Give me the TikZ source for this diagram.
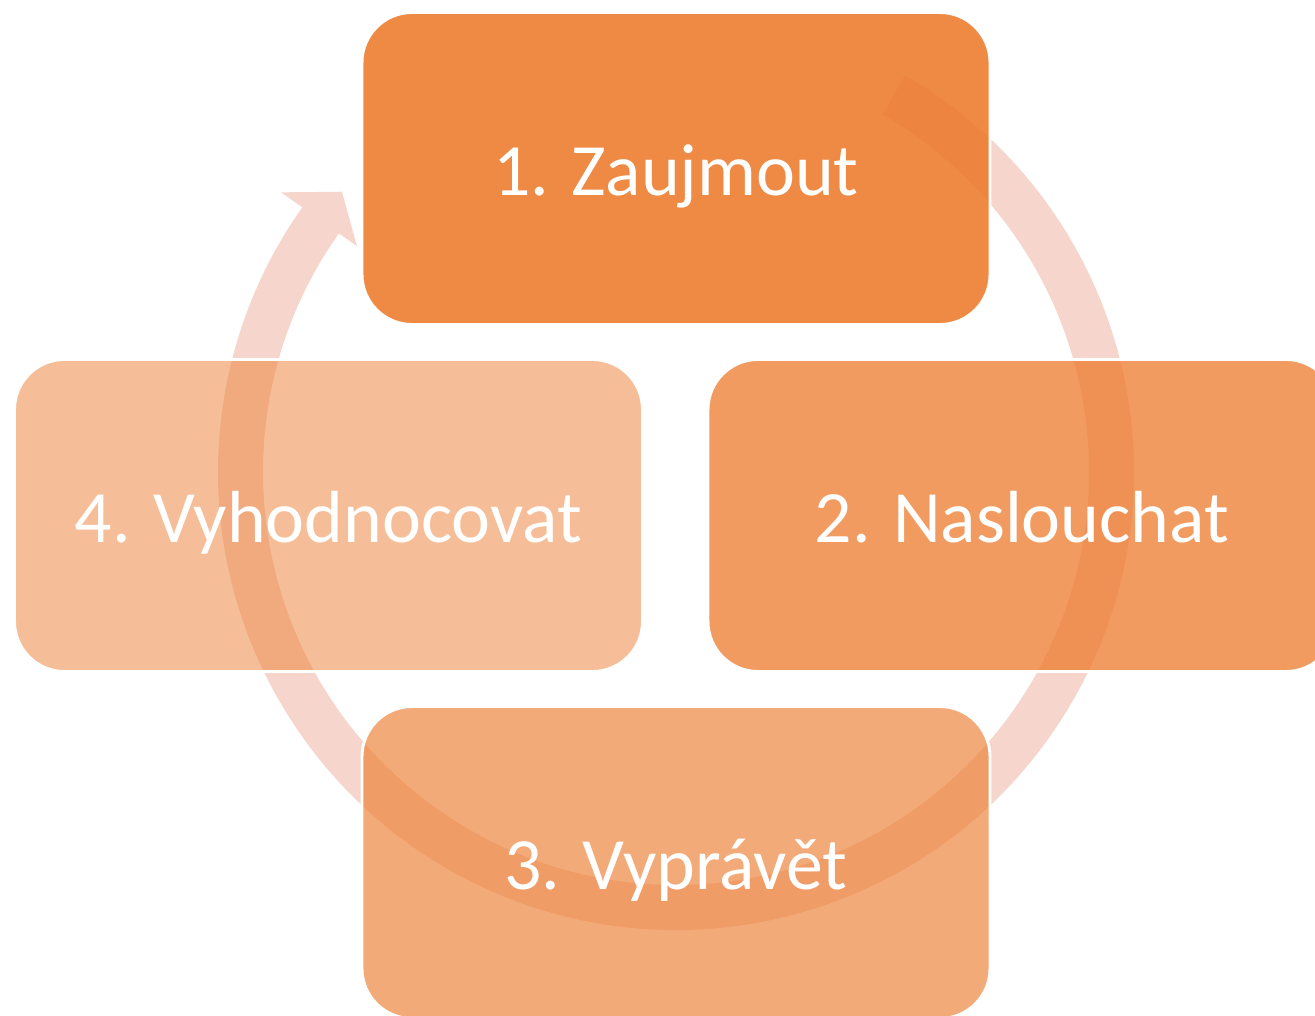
\documentclass[tikz,border=0pt]{standalone}
\usepackage{fontspec}
\setmainfont{Carlito}
\definecolor{accent}{RGB}{237,125,49}
\definecolor{ringpink}{RGB}{246,214,204}
\tikzset{stage/.style={rectangle, rounded corners=1cm, draw=white, line width=1.6pt,
    fill=accent, fill opacity=#1, text opacity=1, text=white,
    minimum width=12.56cm, minimum height=6.24cm,
    text height=31pt, text depth=0pt,
    font=\fontsize{42}{50}\selectfont}}

\begin{document}
\begin{tikzpicture}[x=0.02cm,y=0.02cm]
\useasboundingbox (0,0) rectangle (1315,1015);
\clip (0,0) rectangle (1315,1015);

%ring with arrow head
\begin{scope}[shift={(676,543)}]
\fill[ringpink] (60:458) arc[start angle=60, end angle=-215.3, radius=458]
      -- (-215.3:484) -- (-220:436) -- (-215.3:391) -- (-215.3:413)
      arc[start angle=-215.3, end angle=60, radius=413] -- cycle;
\end{scope}

%stages
\node[stage=0.9]  (zaujmout)  at (676,846.5)  {1. Zaujmout};
\node[stage=0.77] (naslouchat) at (1022,499.5) {2. Naslouchat};
\node[stage=0.65] (vypravet)  at (676,152.5)  {3. Vyprávět};
\node[stage=0.5]  (hodnotit)  at (328.5,499.5) {4. Vyhodnocovat};
\end{tikzpicture}
\end{document}
